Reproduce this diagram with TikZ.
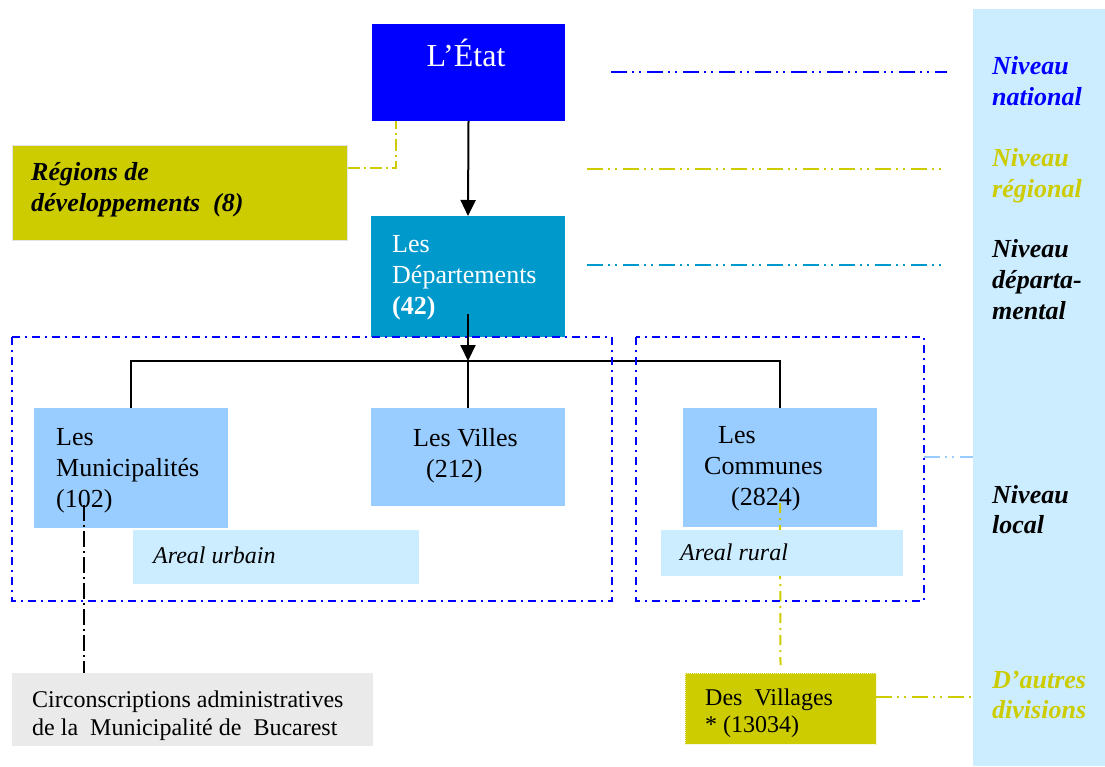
\documentclass[tikz,border=0pt]{standalone}
\usepackage{fontspec}
\setmainfont{Liberation Serif}
\usetikzlibrary{arrows.meta}
\definecolor{cstate}{RGB}{0,0,255}
\definecolor{colive}{RGB}{204,204,0}
\definecolor{cdep}{RGB}{0,153,204}
\definecolor{cunit}{RGB}{153,204,255}
\definecolor{cpale}{RGB}{204,236,255}
\definecolor{cgray}{RGB}{234,234,234}
\definecolor{cborder}{RGB}{228,228,228}
\begin{document}
\begin{tikzpicture}[x=1pt,y=-1pt,
  box/.style={rectangle, inner sep=0pt, outer sep=0pt, anchor=north west, draw=none},
  txt/.style={inner sep=0pt, anchor=base west, font=\fontsize{26}{31}\selectfont},
  stxt/.style={inner sep=0pt, anchor=base west, font=\fontsize{24}{28}\selectfont},
  lvl/.style={inner sep=0pt, anchor=base west, font=\fontsize{26}{31}\selectfont\bfseries\itshape},
  conn/.style={line width=2pt, black},
  arr/.style={conn, -{Triangle[length=16pt,width=15pt]}},
  ddot/.style={line width=2.2pt, dash pattern=on 16pt off 5pt on 2pt off 5pt on 2pt off 6pt},
  vdash/.style={line width=2pt, dash pattern=on 12pt off 4pt on 2pt off 4pt},
  framebox/.style={draw=cstate, line width=2pt, dash pattern=on 8pt off 5pt on 2pt off 5pt}
]
\useasboundingbox (0,0) rectangle (1105,766);

% right panel
\node[box, fill=cpale, minimum width=132pt, minimum height=757pt] (panel) at (973,9) {};

% boxes
\node[box, fill=cstate, minimum width=193pt, minimum height=97pt] (etat) at (372,24) {};
\node[box, fill=colive, draw=cborder, line width=1.5pt, minimum width=335pt, minimum height=95pt] (reg) at (12.5,145.5) {};
\node[box, fill=cdep, minimum width=194pt, minimum height=121pt] (dep) at (371,216) {};
\node[box, fill=cunit, minimum width=194pt, minimum height=120pt] (muni) at (34,408) {};
\node[box, fill=cunit, minimum width=194pt, minimum height=98pt] (villes) at (371,408) {};
\node[box, fill=cunit, minimum width=194pt, minimum height=119pt] (comm) at (683,408) {};
\node[box, fill=cgray, minimum width=361pt, minimum height=73pt] (circ) at (12,673) {};
\node[box, fill=colive, draw=white!75!colive, densely dotted, line width=1pt, minimum width=191pt, minimum height=71pt] (vil) at (685,673) {};

% connectors
\coordinate (jn) at (468,361);
\draw[arr] (etat.south) -- (dep.north);
\draw[arr] ([yshift=23pt]dep.south) -- (jn);
\draw[conn] (muni.north) -- (muni.north |- jn) -- (comm.north |- jn) -- (comm.north);
\draw[conn] (jn) -- (villes.north);
\draw[colive, vdash, line width=1.5pt] (reg.east |- 0,168) -| (etat.south -| 396,0);
\draw[black, line width=2pt, dash pattern=on 16pt off 4pt on 2pt off 4pt] (84,505) -- (circ.north -| 84,0);
\draw[colive, line width=2pt, dash pattern=on 10pt off 5pt on 2pt off 5pt] (780,503) -- ([yshift=8pt]vil.north);
\draw[colive, ddot] (vil.east |- 0,697) -- (panel.west |- 0,697);

% area boxes (over connectors)
\node[box, fill=cpale, minimum width=286pt, minimum height=54pt] (urb) at (133,530) {};
\node[box, fill=cpale, minimum width=242pt, minimum height=46pt] (rur) at (661,530) {};

% dashed frames
\draw[framebox] (12,337) rectangle (612,601);
\draw[framebox] (636,337) rectangle (924,601);

% level lines
\coordinate (ln1) at (611,72);
\coordinate (ln2) at (587,169);
\coordinate (ln3) at (587,265);
\draw[cstate, ddot] (ln1) -- (947,72);
\draw[colive, ddot] (ln2) -- (945,169);
\draw[cdep, ddot] (ln3) -- (945,265);
\draw[cunit, ddot] (924,457) -- (panel.west |- 0,457);

% texts
\node[inner sep=0pt, anchor=base, text=white, font=\fontsize{32}{38}\selectfont] (tetat) at (466,66) {L’État};
\node[lvl] (treg1) at (31,180) {Régions de};
\node[lvl] (treg2) at (31,211) {développements~ (8)};
\node[txt, text=white] (tdep1) at (392,252) {Les};
\node[txt, text=white] (tdep2) at (392,283) {Départements};
\node[txt, text=white] (tdep3) at (392,314) {\bfseries (42)};
\node[txt] (tmun1) at (56,445) {Les};
\node[txt] (tmun2) at (56,476) {Municipalités};
\node[txt] (tmun3) at (56,507) {(102)};
\node[txt] (tvil1) at (413,446) {Les Villes};
\node[txt] (tvil2) at (426,477) {(212)};
\node[txt] (tcom1) at (718,443) {Les};
\node[txt] (tcom2) at (704,474) {Communes};
\node[txt] (tcom3) at (731,505) {(2824)};
\node[stxt, font=\fontsize{24}{28}\selectfont\itshape] (turb) at (153,563) {Areal urbain};
\node[stxt, font=\fontsize{24}{28}\selectfont\itshape] (trur) at (680,560) {Areal rural};
\node[stxt] (tcir1) at (32,707) {Circonscriptions administratives};
\node[stxt] (tcir2) at (32,735) {de la~ Municipalité de~ Bucarest};
\node[stxt] (tvg1) at (705,705) {Des~ Villages};
\node[stxt] (tvg2) at (705,732) {* (13034)};

% level labels
\node[lvl, text=cstate] (lnat1) at (992,74) {Niveau};
\node[lvl, text=cstate] (lnat2) at (992,105) {national};
\node[lvl, text=colive] (lreg1) at (992,166) {Niveau};
\node[lvl, text=colive] (lreg2) at (992,197) {régional};
\node[lvl] (ldep1) at (992,257) {Niveau};
\node[lvl] (ldep2) at (992,288) {départa-};
\node[lvl] (ldep3) at (992,319) {mental};
\node[lvl] (lloc1) at (992,503) {Niveau};
\node[lvl] (lloc2) at (992,533) {local};
\node[lvl, text=colive] (ldiv1) at (992,688) {D’autres};
\node[lvl, text=colive] (ldiv2) at (992,718) {divisions};
\end{tikzpicture}
\end{document}
